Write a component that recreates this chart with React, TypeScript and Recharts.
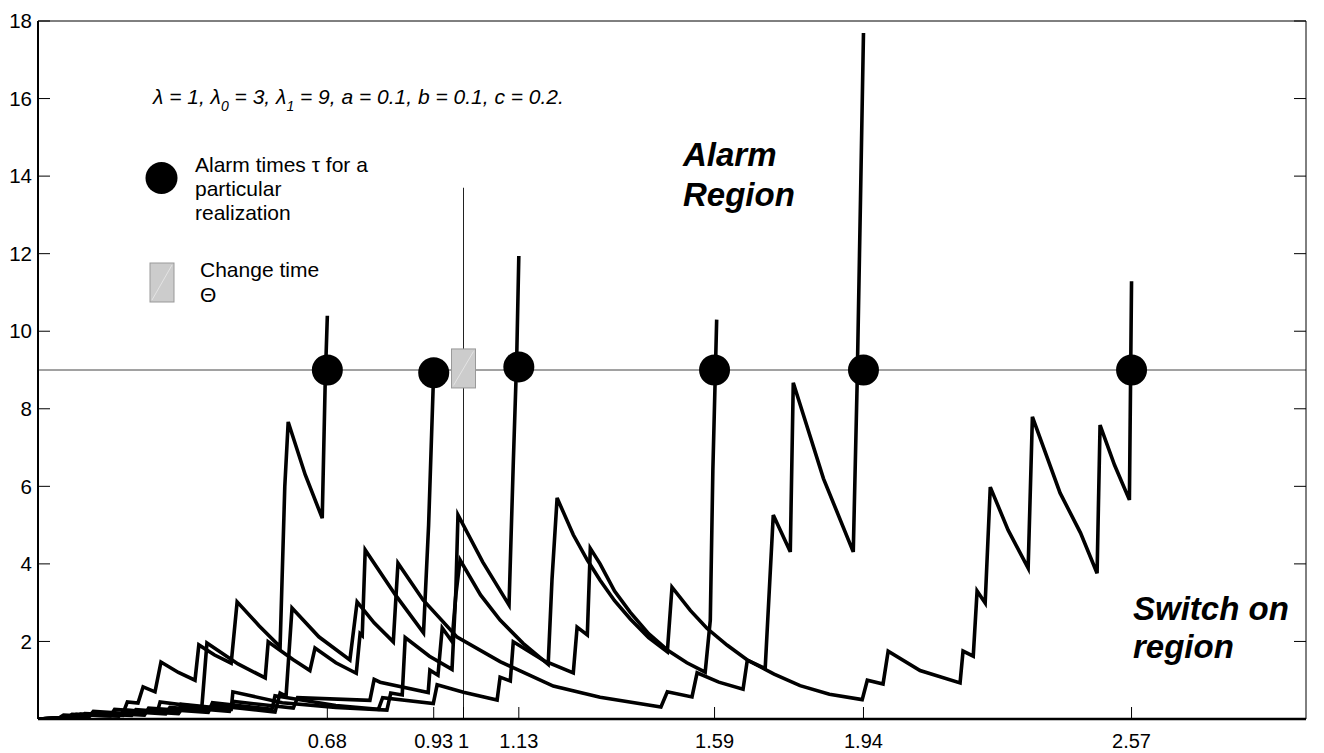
import React from "react"
import { ComposedChart, Line, Scatter, XAxis, YAxis, ReferenceLine } from "recharts"

// axis ticks (alarm times + change time on x)
const xTicks = [0.68, 0.93, 1, 1.13, 1.59, 1.94, 2.57]
const yTicks = [2, 4, 6, 8, 10, 12, 14, 16, 18]

// alarm points for each realization, and the change time marker
const alarmTimes = [0.68, 0.93, 1.13, 1.59, 1.94, 2.57]
const alarmLevels = [9, 8.93, 9.08, 9, 9, 9]
const changeTime = 1
const changeLevel = 9.04
const threshold = 9
const changeLineTop = 13.7

// realizations: [t, statistic]
const pathA = [
  [0, 0], [0.05, 0.03], [0.06, 0.1], [0.12, 0.07], [0.13, 0.2], [0.2, 0.15], [0.21, 0.44],
  [0.235, 0.41], [0.247, 0.83], [0.275, 0.7], [0.289, 1.47], [0.33, 1.2], [0.369, 1.0],
  [0.378, 1.91], [0.415, 1.65], [0.454, 1.44], [0.468, 3.02], [0.52, 2.4], [0.569, 1.86],
  [0.58, 6.0], [0.588, 7.66], [0.628, 6.3], [0.668, 5.18], [0.675, 8.7], [0.68, 10.4],
]
const pathB = [
  [0, 0], [0.08, 0.04], [0.09, 0.12], [0.17, 0.08], [0.18, 0.25], [0.28, 0.17], [0.287, 0.44],
  [0.385, 0.3], [0.397, 1.96], [0.47, 1.42], [0.534, 1.06], [0.541, 1.99], [0.6, 1.53],
  [0.639, 1.25], [0.651, 1.83], [0.7, 1.45], [0.748, 1.18], [0.757, 2.2], [0.762, 2.15],
  [0.769, 4.36], [0.84, 3.2], [0.906, 2.22], [0.918, 5.0], [0.93, 9.0],
]
const pathC = [
  [0, 0], [0.1, 0.05], [0.11, 0.14], [0.22, 0.09], [0.23, 0.24], [0.33, 0.16], [0.336, 0.38],
  [0.454, 0.25], [0.458, 0.7], [0.574, 0.42], [0.7, 0.3], [0.82, 0.23], [0.829, 0.67],
  [0.856, 0.62], [0.863, 2.1], [0.92, 1.62], [0.973, 1.28], [0.982, 3.3], [0.987, 5.26],
  [1.045, 4.05], [1.107, 2.94], [1.117, 6.6], [1.125, 9.3], [1.13, 11.94],
]
const pathD = [
  [0, 0], [0.12, 0.06], [0.13, 0.16], [0.25, 0.1], [0.26, 0.28], [0.4, 0.17], [0.41, 0.42],
  [0.55, 0.25], [0.557, 0.6], [0.7, 0.35], [0.8, 0.25], [0.81, 0.55], [0.929, 0.4],
  [0.938, 0.88], [1.0, 0.69], [1.079, 0.49], [1.086, 1.08], [1.11, 0.98], [1.117, 1.99],
  [1.19, 1.5], [1.258, 1.19], [1.267, 2.37], [1.291, 2.17], [1.298, 4.4], [1.321, 4.0],
  [1.355, 3.3], [1.392, 2.75], [1.435, 2.2], [1.479, 1.78], [1.525, 1.45], [1.568, 1.21],
  [1.58, 2.55], [1.586, 6.4], [1.592, 9.0], [1.595, 10.3],
]
const pathE = [
  [0, 0], [0.07, 0.04], [0.08, 0.12], [0.19, 0.07], [0.2, 0.2], [0.3, 0.13], [0.31, 0.3],
  [0.4, 0.22], [0.41, 0.35], [0.475, 0.28], [0.557, 0.18], [0.569, 0.67], [0.583, 0.59],
  [0.597, 2.86], [0.66, 2.12], [0.733, 1.52], [0.75, 3.02], [0.79, 2.48], [0.835, 1.99],
  [0.846, 4.02], [0.905, 3.07], [0.985, 2.11], [1.086, 1.48], [1.211, 0.85], [1.321, 0.56],
  [1.464, 0.31], [1.479, 0.7], [1.537, 0.57], [1.549, 1.19], [1.6, 0.95], [1.657, 0.77],
  [1.667, 1.52], [1.709, 1.3], [1.728, 5.26], [1.768, 4.31], [1.775, 8.67], [1.846, 6.2],
  [1.916, 4.31], [1.925, 8.6], [1.933, 13.4], [1.94, 17.69],
]
const pathF = [
  [0, 0], [0.09, 0.05], [0.1, 0.13], [0.2, 0.09], [0.21, 0.22], [0.33, 0.14], [0.34, 0.3],
  [0.45, 0.2], [0.46, 0.45], [0.6, 0.28], [0.61, 0.55], [0.78, 0.48], [0.79, 1.02],
  [0.804, 0.95], [0.917, 0.68], [0.921, 1.26], [0.94, 1.13], [0.95, 2.35], [0.973, 2.0],
  [0.982, 3.2], [0.992, 4.1], [1.04, 3.2], [1.086, 2.55], [1.14, 1.95], [1.199, 1.41],
  [1.208, 3.6], [1.22, 5.7], [1.258, 4.75], [1.291, 4.1], [1.321, 3.58], [1.355, 3.05],
  [1.392, 2.58], [1.435, 2.1], [1.479, 1.73], [1.49, 3.4], [1.533, 2.8], [1.572, 2.34],
  [1.62, 1.9], [1.667, 1.52], [1.73, 1.16], [1.791, 0.86], [1.86, 0.64], [1.937, 0.5],
  [1.949, 1.0], [1.986, 0.9], [1.998, 1.75], [2.073, 1.25], [2.167, 0.93], [2.174, 1.75],
  [2.198, 1.62], [2.207, 3.3], [2.226, 2.99], [2.238, 5.98], [2.28, 4.87], [2.327, 3.89],
  [2.337, 7.79], [2.402, 5.83], [2.45, 4.8], [2.489, 3.76], [2.496, 7.58], [2.53, 6.55],
  [2.565, 5.65], [2.57, 11.29],
]

const paths = [pathA, pathB, pathC, pathD, pathE, pathF]

const FONT = "'Liberation Sans', Arial, Helvetica, sans-serif"
const TICK_LEN = 12
const LABEL_GAP_X = 15
const LABEL_GAP_Y = 6

const toPoints = (p: number[][]) => p.map(([t, v]) => ({ t, v }))
const alarmData = alarmTimes.map((t, i) => ({ t, v: alarmLevels[i] }))
const changeData = [{ t: changeTime, v: changeLevel }]

// ticks point inward, like the matlab-style box
function BottomTick({ x, y, payload }: any) {
  const axisY = y - LABEL_GAP_X
  return (
    <g>
      <line x1={x} x2={x} y1={axisY} y2={axisY - TICK_LEN} stroke="#000" strokeWidth={1} />
      <text x={x} y={y} dy="0.71em" textAnchor="middle" fontSize={20} fontFamily={FONT} fill="#000">
        {payload.value}
      </text>
    </g>
  )
}

function LeftTick({ x, y, payload }: any) {
  const axisX = x + LABEL_GAP_Y
  return (
    <g>
      <line x1={axisX} x2={axisX + TICK_LEN} y1={y} y2={y} stroke="#000" strokeWidth={1} />
      <text x={x} y={y} dy="0.355em" textAnchor="end" fontSize={20.5} fontFamily={FONT} fill="#000">
        {payload.value}
      </text>
    </g>
  )
}

function TopTick({ x, y }: any) {
  return <line x1={x} x2={x} y1={y} y2={y + TICK_LEN} stroke="#000" strokeWidth={1} />
}

function RightTick({ x, y }: any) {
  return <line x1={x} x2={x - TICK_LEN} y1={y} y2={y} stroke="#000" strokeWidth={1} />
}

function AlarmDot({ cx, cy }: any) {
  return <circle cx={cx} cy={cy} r={15.5} fill="#000" />
}

function ChangeBox({ cx, cy }: any) {
  return (
    <g>
      <rect x={cx - 12} y={cy - 19.5} width={24} height={39} fill="#cccccc" stroke="#999" strokeWidth={1} />
      <line x1={cx - 10} y1={cy + 17} x2={cx + 10} y2={cy - 17} stroke="#e4e4e4" strokeWidth={1} />
    </g>
  )
}

function Annotations() {
  return (
    <svg
      width={1324}
      height={753}
      style={{ position: "absolute", left: 0, top: 0, pointerEvents: "none" }}
      fontFamily={FONT}
    >
      <text x={153} y={104} fontSize={21} fontStyle="italic">
        λ = 1, λ<tspan fontSize={14} dy={7}>0</tspan>
        <tspan dy={-7}> = 3, λ</tspan>
        <tspan fontSize={14} dy={7}>1</tspan>
        <tspan dy={-7}> = 9, a = 0.1, b = 0.1, c = 0.2.</tspan>
      </text>

      <circle cx={161.5} cy={178} r={16} fill="#000" />
      <text x={195} y={172} fontSize={21}>Alarm times τ for a</text>
      <text x={195} y={196} fontSize={21}>particular</text>
      <text x={195} y={220} fontSize={21}>realization</text>

      <rect x={150} y={263} width={24} height={39} fill="#cccccc" stroke="#999" strokeWidth={1} />
      <line x1={152} y1={300} x2={172} y2={265} stroke="#e4e4e4" strokeWidth={1} />
      <text x={200} y={277} fontSize={21}>Change time</text>
      <text x={200} y={302} fontSize={21}>Θ</text>

      <text x={683} y={166} fontSize={33} fontWeight="bold" fontStyle="italic">Alarm</text>
      <text x={683} y={206} fontSize={33} fontWeight="bold" fontStyle="italic">Region</text>

      <text x={1133} y={620} fontSize={33} fontWeight="bold" fontStyle="italic">Switch on</text>
      <text x={1133} y={658} fontSize={33} fontWeight="bold" fontStyle="italic">region</text>
    </svg>
  )
}

export default function App() {
  return (
    <div style={{ position: "absolute", left: 0, top: 0, width: 1324, height: 753, background: "#fff" }}>
      <ComposedChart width={1324} height={753} margin={{ top: 20, right: 17, bottom: 33, left: 37 }}>
        <XAxis
          type="number"
          dataKey="t"
          domain={[0, 2.98]}
          ticks={xTicks}
          interval={0}
          allowDataOverflow
          height={1}
          tickSize={0}
          tickMargin={LABEL_GAP_X}
          tick={<BottomTick />}
          axisLine={{ stroke: "#000", strokeWidth: 2.5 }}
        />
        <XAxis
          xAxisId="top"
          orientation="top"
          type="number"
          domain={[0, 2.98]}
          ticks={xTicks}
          interval={0}
          allowDataOverflow
          height={1}
          tickSize={0}
          tickMargin={0}
          tick={<TopTick />}
          axisLine={{ stroke: "#000", strokeWidth: 1 }}
        />
        <YAxis
          type="number"
          dataKey="v"
          domain={[0, 18]}
          ticks={yTicks}
          interval={0}
          allowDataOverflow
          width={1}
          tickSize={0}
          tickMargin={LABEL_GAP_Y}
          tick={<LeftTick />}
          axisLine={{ stroke: "#000", strokeWidth: 2 }}
        />
        <YAxis
          yAxisId="right"
          orientation="right"
          type="number"
          domain={[0, 18]}
          ticks={yTicks}
          interval={0}
          allowDataOverflow
          width={1}
          tickSize={0}
          tickMargin={0}
          tick={<RightTick />}
          axisLine={{ stroke: "#000", strokeWidth: 1 }}
        />

        <ReferenceLine y={threshold} stroke="#444" strokeWidth={1} />
        <ReferenceLine
          segment={[
            { x: changeTime, y: 0 },
            { x: changeTime, y: changeLineTop },
          ]}
          stroke="#222"
          strokeWidth={1}
        />

        {paths.map((p, i) => (
          <Line
            key={i}
            data={toPoints(p)}
            dataKey="v"
            type="linear"
            stroke="#000"
            strokeWidth={3.6}
            dot={false}
            activeDot={false}
            isAnimationActive={false}
          />
        ))}

        <Scatter data={changeData} shape={<ChangeBox />} isAnimationActive={false} />
        <Scatter data={alarmData} shape={<AlarmDot />} isAnimationActive={false} />
      </ComposedChart>
      <Annotations />
    </div>
  )
}
